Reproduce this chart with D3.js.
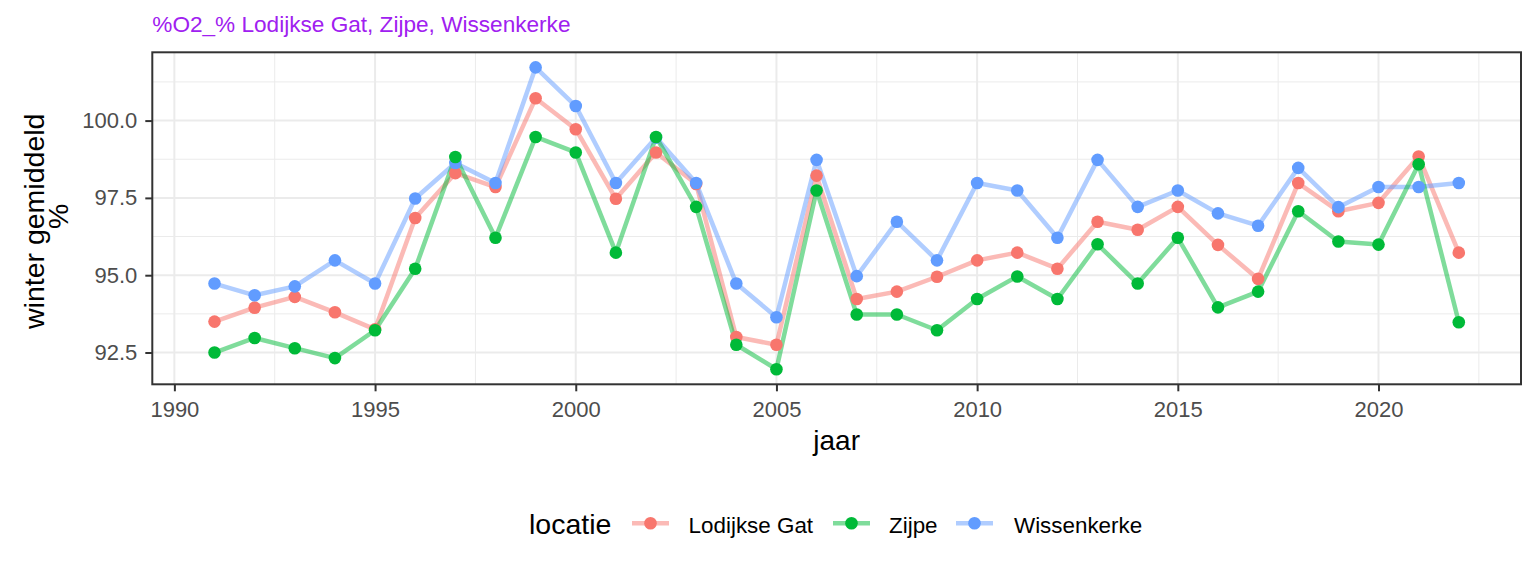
<!DOCTYPE html>
<html>
<head>
<meta charset="utf-8">
<script src="https://cdn.jsdelivr.net/npm/d3@7"></script>
<style>
    body { margin: 0; background: #fff; }
    text { font-family: "Liberation Sans", Arial, sans-serif; }
</style>
</head>
<body>
<div id="plot"></div>
<script>
//Chart data
const years = [1991, 1992, 1993, 1994, 1995, 1996, 1997, 1998, 1999, 2000,
    2001, 2002, 2003, 2004, 2005, 2006, 2007, 2008, 2009, 2010,
    2011, 2012, 2013, 2014, 2015, 2016, 2017, 2018, 2019, 2020, 2021, 2022];
const lodijkseGat = [93.5, 93.95, 94.3, 93.8, 93.25, 96.85, 98.3, 97.85, 100.72, 99.72,
    97.47, 98.97, 97.95, 93.0, 92.75, 98.22, 94.23, 94.47, 94.95, 95.48,
    95.73, 95.21, 96.73, 96.47, 97.21, 95.98, 94.88, 97.98, 97.07, 97.34, 98.84, 95.73];
const zijpe = [92.5, 92.97, 92.64, 92.32, 93.22, 95.21, 98.82, 96.21, 99.47, 98.97,
    95.73, 99.47, 97.21, 92.75, 91.96, 97.74, 93.73, 93.73, 93.22, 94.23,
    94.96, 94.23, 96.0, 94.73, 96.21, 93.96, 94.47, 97.07, 96.09, 95.99, 98.59, 93.48];
const wissenkerke = [94.73, 94.35, 94.64, 95.48, 94.73, 97.48, 98.63, 97.98, 101.72, 100.47,
    97.98, 99.45, 97.98, 94.73, 93.64, 98.73, 94.97, 96.73, 95.48, 97.98,
    97.74, 96.21, 98.73, 97.21, 97.74, 97.0, 96.6, 98.47, 97.2, 97.85, 97.85, 97.98];
const locaties = ["Lodijkse Gat", "Zijpe", "Wissenkerke"];
const xTicks = [1990, 1995, 2000, 2005, 2010, 2015, 2020];
const xMinor = [1992.5, 1997.5, 2002.5, 2007.5, 2012.5, 2017.5, 2022.5];
const yTicks = [92.5, 95.0, 97.5, 100.0];
const yMinor = [93.75, 96.25, 98.75, 101.25];

const colors = {"Lodijkse Gat": "#F8766D", "Zijpe": "#00BA38", "Wissenkerke": "#619CFF"};
const seriesValues = {"Lodijkse Gat": lodijkseGat, "Zijpe": zijpe, "Wissenkerke": wissenkerke};
//Draw order seen in the picture (green points end up on top)
const drawOrder = ["Lodijkse Gat", "Wissenkerke", "Zijpe"];

const w = 1536;
const h = 576;
const panel = {left: 152.3, right: 1521, top: 52.3, bottom: 384.3};
const lineW = 4.5;
const pointR = 6.3;

const svg = d3.select("#plot")
    .append("svg")
    .attr("width", w)
    .attr("height", h);

//ggplot style 5% expansion on both axes
const xExt = d3.extent(years);
const xPad = (xExt[1] - xExt[0]) * 0.05;
const allValues = lodijkseGat.concat(zijpe, wissenkerke);
const yExt = d3.extent(allValues);
const yPad = (yExt[1] - yExt[0]) * 0.05;

const x = d3.scaleLinear()
    .domain([xExt[0] - xPad, xExt[1] + xPad])
    .range([panel.left, panel.right]);
const y = d3.scaleLinear()
    .domain([yExt[0] - yPad, yExt[1] + yPad])
    .range([panel.bottom, panel.top]);

//Grid lines
const grid = svg.append("g");
grid.selectAll(".xminor").data(xMinor).join("line")
    .attr("x1", d => x(d)).attr("x2", d => x(d))
    .attr("y1", panel.top).attr("y2", panel.bottom)
    .attr("stroke", "#EBEBEB").attr("stroke-width", 1);
grid.selectAll(".yminor").data(yMinor).join("line")
    .attr("y1", d => y(d)).attr("y2", d => y(d))
    .attr("x1", panel.left).attr("x2", panel.right)
    .attr("stroke", "#EBEBEB").attr("stroke-width", 1);
grid.selectAll(".xmajor").data(xTicks).join("line")
    .attr("x1", d => x(d)).attr("x2", d => x(d))
    .attr("y1", panel.top).attr("y2", panel.bottom)
    .attr("stroke", "#EBEBEB").attr("stroke-width", 2);
grid.selectAll(".ymajor").data(yTicks).join("line")
    .attr("y1", d => y(d)).attr("y2", d => y(d))
    .attr("x1", panel.left).attr("x2", panel.right)
    .attr("stroke", "#EBEBEB").attr("stroke-width", 2);

//Lines then points
const line = d3.line()
    .x((d, i) => x(years[i]))
    .y(d => y(d));

svg.append("g")
    .selectAll("path")
    .data(drawOrder)
    .join("path")
    .attr("d", d => line(seriesValues[d]))
    .attr("fill", "none")
    .attr("stroke", d => colors[d])
    .attr("stroke-opacity", 0.5)
    .attr("stroke-width", lineW)
    .attr("stroke-linejoin", "round");

drawOrder.forEach(name => {
    svg.append("g")
        .selectAll("circle")
        .data(seriesValues[name])
        .join("circle")
        .attr("cx", (d, i) => x(years[i]))
        .attr("cy", d => y(d))
        .attr("r", pointR)
        .attr("fill", colors[name]);
});

//Panel border
svg.append("rect")
    .attr("x", panel.left).attr("y", panel.top)
    .attr("width", panel.right - panel.left)
    .attr("height", panel.bottom - panel.top)
    .attr("fill", "none")
    .attr("stroke", "#333333")
    .attr("stroke-width", 2);

//Axes
const xAxis = svg.append("g")
    .attr("transform", "translate(0," + panel.bottom + ")")
    .call(d3.axisBottom(x).tickValues(xTicks).tickFormat(d3.format("d")).tickSize(7).tickPadding(10));
const yAxis = svg.append("g")
    .attr("transform", "translate(" + panel.left + ",0)")
    .call(d3.axisLeft(y).tickValues(yTicks).tickFormat(d3.format(".1f")).tickSize(7).tickPadding(8));

[xAxis, yAxis].forEach(a => {
    a.select(".domain").remove();
    a.selectAll(".tick line").attr("stroke", "#333333").attr("stroke-width", 2);
    a.selectAll(".tick text")
        .attr("fill", "#4D4D4D")
        .style("font-size", "22px")
        .style("font-family", "'Liberation Sans', Arial, sans-serif");
});

//Titles
svg.append("text")
    .attr("x", panel.left)
    .attr("y", 32.3)
    .attr("fill", "#A020F0")
    .style("font-size", "22.6px")
    .text("%O2_% Lodijkse Gat, Zijpe, Wissenkerke");

svg.append("text")
    .attr("x", (panel.left + panel.right) / 2)
    .attr("y", 450)
    .attr("text-anchor", "middle")
    .style("font-size", "28px")
    .text("jaar");

const yCenter = (panel.top + panel.bottom) / 2;
svg.append("text")
    .attr("transform", "translate(43.5," + (yCenter + 3) + ") rotate(-90)")
    .attr("text-anchor", "middle")
    .style("font-size", "28.5px")
    .text("winter gemiddeld");
svg.append("text")
    .attr("transform", "translate(68.3," + (yCenter - 2) + ") rotate(-90)")
    .attr("text-anchor", "middle")
    .style("font-size", "28.5px")
    .text("%");

//Legend at the bottom
const legY = 523.3;
const legend = svg.append("g");
legend.append("text")
    .attr("x", 529)
    .attr("y", 534)
    .style("font-size", "28.5px")
    .text("locatie");

const keyX = [650.5, 851.5, 974.5];
const labelX = [688.6, 889, 1014];
locaties.forEach((name, i) => {
    legend.append("line")
        .attr("x1", keyX[i] - 18.5).attr("x2", keyX[i] + 18.5)
        .attr("y1", legY).attr("y2", legY)
        .attr("stroke", colors[name])
        .attr("stroke-opacity", 0.5)
        .attr("stroke-width", lineW);
    legend.append("circle")
        .attr("cx", keyX[i]).attr("cy", legY)
        .attr("r", pointR)
        .attr("fill", colors[name]);
    legend.append("text")
        .attr("x", labelX[i])
        .attr("y", 532.7)
        .style("font-size", "22.4px")
        .text(name);
});
</script>
</body>
</html>
